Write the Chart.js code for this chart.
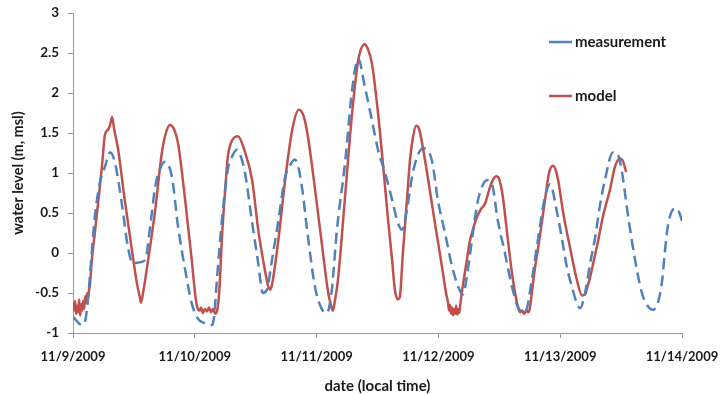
<!DOCTYPE html>
<html><head><meta charset="utf-8">
<script src="https://cdn.jsdelivr.net/npm/chart.js@4.4.1/dist/chart.umd.min.js"></script>
<style>html,body{margin:0;padding:0;background:#fff}#wrap{width:721px;height:395px;position:relative}</style>
</head><body><div id="wrap"><canvas id="c" width="721" height="395"></canvas></div>
<script>
// x tick labels (one per day, hours 0..120)
const dateLabels = ['11/9/2009','11/10/2009','11/11/2009','11/12/2009','11/13/2009','11/14/2009'];
const yTickValues = [-1,-0.5,0,0.5,1,1.5,2,2.5,3];

// measurement: hours since 11/9/2009 00:00, water level (m, msl)
const measHours = [0,1.8,2.4,3.0,3.5,4.3,5.3,6.3,7.3,8.3,9.7,10.8,11.8,12.8,14.2,15.2,16.2,17.1,18.1,19.5,20.7,22.1,23.4,24.6,26.0,27.4,27.8,28.4,29.4,30.5,31.3,32.3,33.1,33.9,35.3,36.5,37.4,38.2,39.2,40.4,41.8,42.8,43.7,44.3,45.1,46.3,47.7,49.1,50.0,51.0,52.0,53.6,55.0,56.2,57.5,58.9,60.1,61.5,62.9,64.0,64.8,65.8,66.8,67.8,69.0,70.7,71.9,73.3,74.7,75.9,76.8,77.8,78.8,79.8,81.6,82.6,83.7,85.1,86.5,87.7,89.1,90.4,91.6,93.0,94.0,95.4,96.4,97.3,98.3,99.3,99.9,100.9,101.9,102.9,103.8,104.8,106.4,107.2,108.2,109.2,110.1,111.1,112.1,113.1,114.3,115.3,116.1,116.6,117.2,118.2,119.0,119.6,120];
const measLevel = [-0.8,-0.9,-0.85,-0.55,-0.15,0.45,0.88,1.08,1.26,1.12,0.58,0.08,-0.13,-0.12,-0.09,0.33,0.83,1.04,1.14,0.95,0.33,-0.21,-0.63,-0.82,-0.88,-0.9,-0.8,-0.3,0.45,1.04,1.2,1.29,1.2,1.0,0.38,-0.13,-0.5,-0.46,-0.09,0.38,0.95,1.1,1.17,1.1,0.83,0.2,-0.43,-0.71,-0.75,-0.46,0.29,1.12,2.04,2.43,2.08,1.66,1.29,1.0,0.66,0.38,0.29,0.54,0.95,1.2,1.31,1.16,0.66,0.25,-0.17,-0.42,-0.52,-0.21,0.25,0.66,0.91,0.85,0.41,0.0,-0.42,-0.68,-0.74,-0.34,0.16,0.7,0.86,0.5,0.16,-0.17,-0.42,-0.63,-0.69,-0.5,-0.13,0.2,0.58,0.91,1.26,1.25,1.0,0.54,0.16,-0.21,-0.5,-0.65,-0.71,-0.61,-0.34,0.0,0.33,0.54,0.56,0.48,0.4];

// model: hours since 11/9/2009 00:00, water level (m, msl)
const modelHours = [0,0.2,0.4,0.6,0.8,1.0,1.2,1.4,1.6,1.8,2.0,2.2,2.4,2.6,2.8,3.0,3.2,3.3,3.7,4.3,4.9,5.7,6.3,6.9,7.3,7.7,8.1,8.9,10.2,11.6,12.6,13.2,13.4,13.8,14.8,16.2,17.5,18.3,19.1,19.9,20.7,22.1,23.4,24.2,24.6,25.0,25.2,25.6,26.0,26.4,26.8,27.2,27.6,28.0,28.4,28.8,29.4,30.0,30.5,31.3,32.5,33.7,35.3,36.5,37.8,38.4,38.8,39.2,40.4,41.8,43.2,44.5,45.5,46.3,47.7,49.1,50.2,50.8,51.2,51.6,52.2,53.6,55.0,56.2,57.5,58.1,58.9,60.1,61.1,62.1,62.9,63.4,64.0,64.4,65.0,65.8,66.4,67.0,67.6,68.2,68.8,70.0,71.3,72.7,73.5,73.9,74.1,74.3,74.5,74.7,74.9,75.1,75.3,75.5,75.7,75.9,76.1,76.3,76.6,77.2,77.6,78.2,78.6,79.6,80.4,81.2,82.2,82.8,83.4,84.0,84.7,85.7,86.7,87.7,88.1,88.5,88.9,89.3,89.7,90.0,90.4,91.0,91.6,92.2,93.0,93.8,94.6,95.2,95.6,96.6,97.9,99.3,100.3,100.9,101.3,101.9,102.5,103.4,104.4,105.8,106.8,107.8,108.4,109.0];
const modelLevel = [-0.62,-0.72,-0.6,-0.76,-0.66,-0.74,-0.58,-0.78,-0.64,-0.72,-0.6,-0.7,-0.54,-0.62,-0.5,-0.55,-0.45,-0.42,-0.1,0.25,0.6,1.08,1.48,1.54,1.6,1.7,1.55,1.29,0.66,0.04,-0.38,-0.56,-0.62,-0.5,-0.09,0.54,1.25,1.5,1.6,1.55,1.37,0.66,-0.09,-0.58,-0.7,-0.72,-0.68,-0.75,-0.7,-0.73,-0.68,-0.74,-0.7,-0.76,-0.72,-0.5,0.25,0.8,1.2,1.4,1.46,1.3,0.91,0.29,-0.21,-0.4,-0.46,-0.4,0.13,0.91,1.54,1.79,1.7,1.45,0.79,0.08,-0.46,-0.65,-0.72,-0.6,-0.34,0.7,1.75,2.41,2.61,2.55,2.37,1.75,1.1,0.4,-0.1,-0.45,-0.58,-0.55,0.0,0.66,1.16,1.45,1.59,1.55,1.37,0.91,0.38,-0.17,-0.5,-0.62,-0.72,-0.65,-0.76,-0.68,-0.78,-0.7,-0.76,-0.66,-0.77,-0.7,-0.75,-0.65,-0.5,-0.25,-0.09,0.15,0.25,0.45,0.55,0.62,0.83,0.92,0.96,0.92,0.7,0.16,-0.34,-0.68,-0.74,-0.72,-0.76,-0.72,-0.74,-0.7,-0.5,-0.2,0.04,0.3,0.66,1.0,1.09,1.02,0.91,0.5,0.08,-0.34,-0.53,-0.52,-0.44,-0.3,-0.13,0.13,0.45,0.79,1.08,1.18,1.14,1.01];

const seriesNames = ['measurement','model'];
const blue = '#4F81BD', red = '#C0504D';
const FONT = 'Lato';
const TXT = '#1a1a1a';

const toXY = (xs, ys) => xs.map((x, i) => ({x: x, y: ys[i]}));

const legendPlugin = {
  id: 'sideLegend',
  afterDraw(chart) {
    const ctx = chart.ctx, ca = chart.chartArea;
    ctx.save();
    chart.data.datasets.forEach((ds, i) => {
      const y = ca.top + 29 + i * 54;
      const x0 = ca.right - 133;
      ctx.strokeStyle = ds.borderColor;
      ctx.lineWidth = 2.5;
      ctx.setLineDash([]);
      ctx.beginPath(); ctx.moveTo(x0, y); ctx.lineTo(x0 + 23, y); ctx.stroke();
      ctx.fillStyle = TXT;
      ctx.font = 'bold 15px ' + FONT;
      ctx.textBaseline = 'middle';
      ctx.textAlign = 'left';
      ctx.fillText(ds.label, x0 + 26, y);
    });
    ctx.restore();
  }
};

new Chart(document.getElementById('c'), {
  type: 'line',
  data: {
    datasets: [
      {label: seriesNames[0], data: toXY(measHours, measLevel), borderColor: blue, backgroundColor: blue,
       borderWidth: 2.5, borderDash: [11, 6], pointRadius: 0, cubicInterpolationMode: 'monotone', fill: false},
      {label: seriesNames[1], data: toXY(modelHours, modelLevel), borderColor: red, backgroundColor: red,
       borderWidth: 2.5, pointRadius: 0, cubicInterpolationMode: 'monotone', fill: false}
    ]
  },
  options: {
    responsive: false,
    animation: false,
    layout: {padding: {left: 0, right: 0, top: 0, bottom: 0}},
    plugins: {legend: {display: false}, tooltip: {enabled: false}},
    scales: {
      x: {
        type: 'linear', min: 0, max: 120,
        afterBuildTicks(s) { s.ticks = dateLabels.map((_, i) => ({value: i * 24})); },
        ticks: {callback: (v) => dateLabels[Math.round(v / 24)], maxRotation: 0, autoSkip: false,
                padding: 11, color: TXT, font: {family: FONT, size: 13, weight: 'bold'}},
        grid: {drawOnChartArea: false, drawTicks: true, tickLength: 5, color: '#9a9a9a'},
        border: {display: true, color: '#9a9a9a', width: 1},
        title: {display: true, text: 'date (local time)', color: TXT, padding: {top: 6, bottom: 0},
                font: {family: FONT, size: 15, weight: 'bold'}},
        afterFit(s) { s.height = 62; s.paddingRight = 39; }
      },
      y: {
        min: -1, max: 3,
        afterBuildTicks(s) { s.ticks = yTickValues.map(v => ({value: v})); },
        ticks: {padding: 9, color: TXT, callback: (v) => String(v),
                font: {family: FONT, size: 13.5, weight: 'bold'}},
        grid: {drawOnChartArea: false, drawTicks: true, tickLength: 5, color: '#9a9a9a'},
        border: {display: true, color: '#9a9a9a', width: 1},
        title: {display: true, text: 'water level (m, msl)', color: TXT, padding: {top: 10, bottom: 0},
                font: {family: FONT, size: 14.5, weight: 'bold'}},
        afterFit(s) { s.width = 73; s.paddingTop = 13; }
      }
    }
  },
  plugins: [legendPlugin]
});
</script>
</body></html>
